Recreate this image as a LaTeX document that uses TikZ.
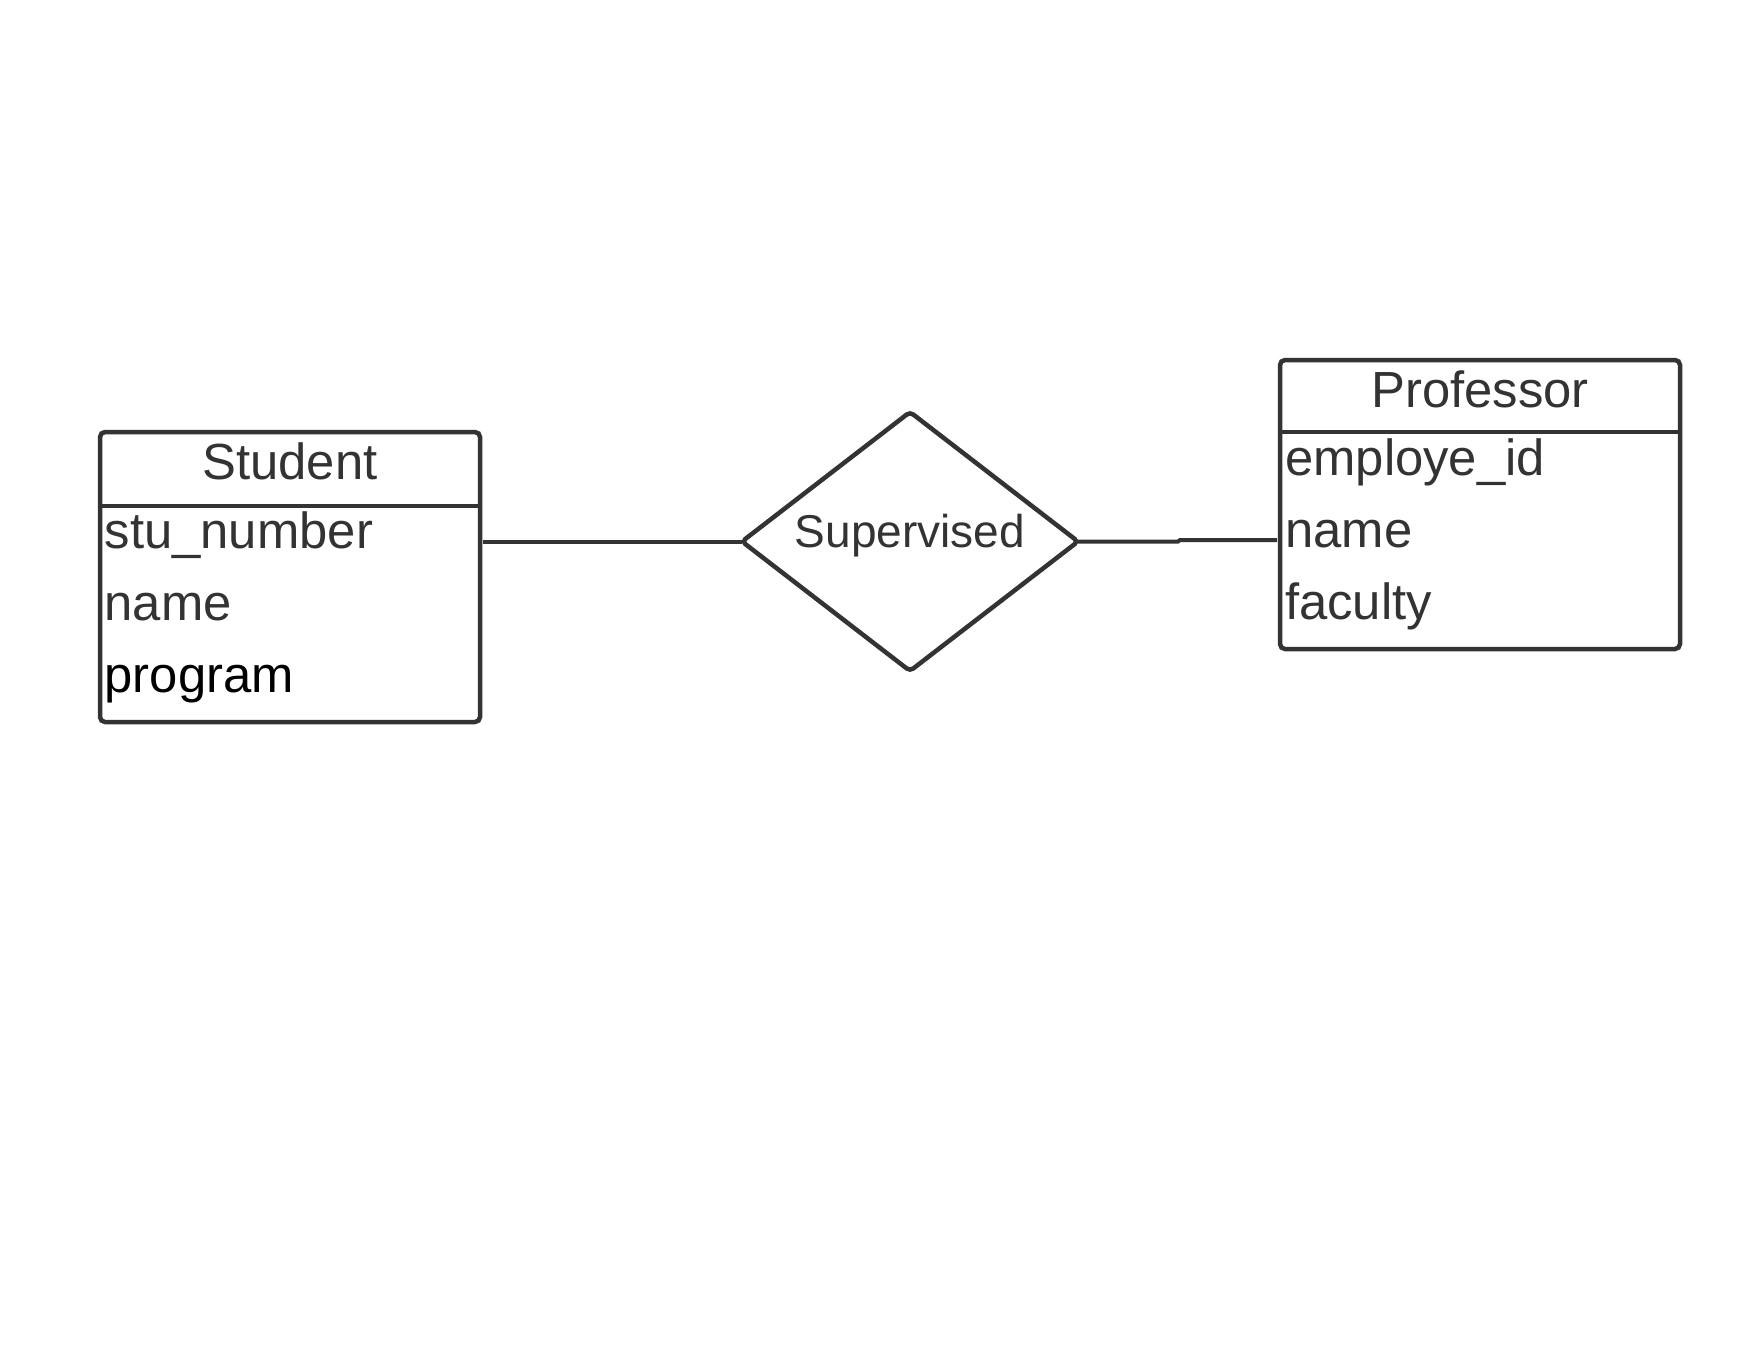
\documentclass[tikz,border=0pt]{standalone}
\usepackage{fontspec}
\setmainfont{Liberation Sans}
\usetikzlibrary{shapes.geometric}
\definecolor{ink}{HTML}{333333}
\begin{document}
\begin{tikzpicture}[x=1pt,y=-1pt,
  entbox/.style={draw=ink, line width=4.5pt, rounded corners=5pt, inner sep=0pt, outer sep=0pt},
  sepline/.style={draw=ink, line width=4.5pt},
  conn/.style={draw=ink, line width=4pt},
  ttl/.style={anchor=base, text=ink, font=\fontsize{50.8}{60}\selectfont, inner sep=0pt},
  attr/.style={anchor=base west, text=ink, font=\fontsize{50.8}{60}\selectfont, inner sep=0pt},
  relshape/.style={diamond, draw=ink, line width=4.5pt, rounded corners=4pt, inner sep=0pt, outer sep=0pt, aspect=1.297},
  reltext/.style={anchor=base, text=ink, font=\fontsize{46}{55}\selectfont, inner sep=0pt}
]
\fill[white] (0,0) rectangle (1760,1360);
\useasboundingbox (0,0) rectangle (1760,1360);

% Student entity
\node[entbox, minimum width=380pt, minimum height=290pt] (student) at (290,577) {};
\draw[sepline] ([yshift=-74pt]student.north west) -- ([yshift=-74pt]student.north east);
\node[ttl] (stitle) at (290,479) {Student};
\node[attr] (s1) at (104.5,548) {stu\_number};
\node[attr] (s2) at (104.5,620) {name};
\node[attr, text=black] (s3) at (104.5,692) {program};

% Professor entity
\node[entbox, minimum width=400pt, minimum height=289pt] (prof) at (1480,504.5) {};
\draw[sepline] ([yshift=-72pt]prof.north west) -- ([yshift=-72pt]prof.north east);
\node[ttl] (ptitle) at (1480,407) {Professor};
\node[attr] (p1) at (1285,475) {employe\_id};
\node[attr] (p2) at (1285,547) {name};
\node[attr] (p3) at (1285,619) {faculty};

% Relationship
\node[relshape, minimum width=336pt, minimum height=259pt] (rel) at (910,541.5) {};
\node[reltext] (reltxt) at (910,547) {Supervised};

% Connectors
\coordinate (sa) at (483,541.5);
\coordinate (j1) at (1178,541.5);
\coordinate (j2) at (1180,540);
\coordinate (pa) at (1277,540);
\draw[conn] (sa) -- (rel.west);
\draw[conn] (rel.east) -- (j1) -- (j2) -- (pa);
\end{tikzpicture}
\end{document}
